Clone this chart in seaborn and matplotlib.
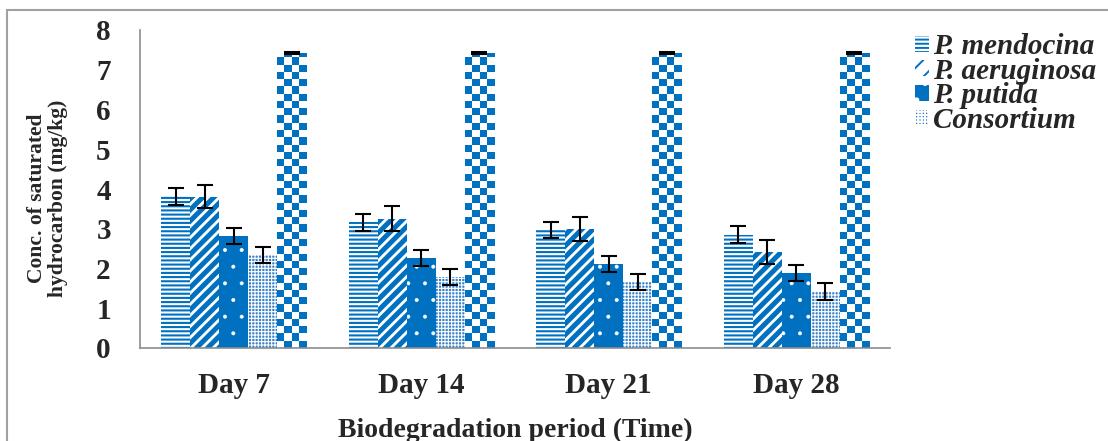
import numpy as np
import pandas as pd
import matplotlib
matplotlib.use("Agg")
import matplotlib.pyplot as plt
import matplotlib.patches as mpatches
from matplotlib.colors import ListedColormap
import seaborn as sns

# ---- data ----
days = ["Day 7", "Day 14", "Day 21", "Day 28"]
strains = ["P. mendocina", "P. aeruginosa", "P. putida", "Consortium", "Control"]

mendocina = [3.82, 3.16, 2.97, 2.85]
aeruginosa = [3.81, 3.25, 2.99, 2.41]
putida = [2.81, 2.26, 2.12, 1.89]
consortium = [2.35, 1.79, 1.67, 1.43]
control = [7.42, 7.42, 7.42, 7.42]

mendocina_err = [0.21, 0.22, 0.20, 0.22]
aeruginosa_err = [0.30, 0.31, 0.30, 0.30]
putida_err = [0.20, 0.20, 0.20, 0.21]
consortium_err = [0.20, 0.20, 0.20, 0.21]
control_err = [0.02, 0.02, 0.02, 0.02]

values = [mendocina, aeruginosa, putida, consortium, control]
errors = [mendocina_err, aeruginosa_err, putida_err, consortium_err, control_err]

df = pd.DataFrame(
    [(d, s, v) for s, vals in zip(strains, values) for d, v in zip(days, vals)],
    columns=["day", "strain", "value"],
)

# ---- style ----
sns.set_style("white")
plt.rcParams["font.family"] = ["Liberation Serif", "DejaVu Serif"]
plt.rcParams["font.weight"] = "bold"
plt.rcParams["hatch.linewidth"] = 1.4

BLUE = "#0070C0"
GREY = "#8C8C8C"

fig = plt.figure(figsize=(11.08, 4.41), dpi=100)
ax = fig.add_axes([140 / 1108, 93 / 441, 750 / 1108, 318 / 441])

sns.barplot(data=df, x="day", y="value", hue="strain", order=days,
            hue_order=strains, width=0.775, errorbar=None, legend=False,
            ax=ax, saturation=1)

ax.set_ylim(0, 8)
ax.set_xlim(-0.5, len(days) - 0.5)

# per-series fill styles
styles = [
    dict(face="white", hatch="----", hcolor=BLUE, hlw=1.5),
    dict(face="white", hatch="///", hcolor=BLUE, hlw=3.6),
    dict(face=BLUE, hatch=".", hcolor="white", hlw=0.4),
    dict(face="#3A82CA", hatch="+++++", hcolor="white", hlw=0.8),
    dict(face="white", hatch=None, hcolor=BLUE, hlw=1.0),
]

for cont, st in zip(ax.containers, styles):
    for bar in cont:
        bar.set_facecolor(st["face"])
        bar.set_edgecolor(st["hcolor"])
        bar.set_linewidth(0)
        if st["hatch"]:
            bar.set_hatch(st["hatch"])
            if hasattr(bar, "set_hatch_linewidth"):
                bar.set_hatch_linewidth(st["hlw"])

# checkerboard fill for the control bars, clipped to each bar
checker_cmap = ListedColormap(["white", BLUE])
px_per_x = ax.transData.transform((1, 0))[0] - ax.transData.transform((0, 0))[0]
px_per_y = ax.transData.transform((0, 1))[1] - ax.transData.transform((0, 0))[1]
for bar in ax.containers[4]:
    x0, w, h = bar.get_x(), bar.get_width(), bar.get_height()
    ncol = 4
    sq_px = w * px_per_x / ncol
    sq_y = sq_px / px_per_y
    nrow = int(np.ceil(h / sq_y))
    grid = (np.add.outer(np.arange(nrow), np.arange(ncol)) % 2).astype(float)
    im = ax.imshow(grid, cmap=checker_cmap, vmin=0, vmax=1, origin="lower",
                   extent=(x0, x0 + w, 0, nrow * sq_y), aspect="auto",
                   interpolation="nearest", zorder=bar.get_zorder() + 0.1)
    im.set_clip_path(bar)
ax.set_xlim(-0.5, len(days) - 0.5)
ax.set_ylim(0, 8)

# error bars from the drawn bars
for cont, errs in zip(ax.containers, errors):
    xs = [b.get_x() + b.get_width() / 2 for b in cont]
    hs = [b.get_height() for b in cont]
    ax.errorbar(xs, hs, yerr=errs, fmt="none", ecolor="black",
                elinewidth=1.5, capsize=6, capthick=1.5, zorder=5)

# axes styling
for s in ["top", "right"]:
    ax.spines[s].set_visible(False)
for s in ["left", "bottom"]:
    ax.spines[s].set_color(GREY)
    ax.spines[s].set_linewidth(1.2)

ax.set_yticks(range(0, 9))
ax.tick_params(axis="y", which="major", direction="out", length=6, width=1,
               color=GREY, labelsize=21, pad=15)
ax.tick_params(axis="x", which="major", length=0, labelsize=21, pad=17)
ax.set_xticks(np.arange(-0.5, len(days)), minor=True)
ax.tick_params(axis="x", which="minor", direction="out", length=7, width=1,
               color=GREY)
for lab in ax.get_xticklabels() + ax.get_yticklabels():
    lab.set_fontweight("bold")

ax.set_xlabel("Biodegradation period (Time)", fontsize=20, fontweight="bold",
              labelpad=14)
ax.set_ylabel("Conc. of saturated\nhydrocarbon (mg/kg)", fontsize=15.5,
              fontweight="bold", linespacing=1.05)
ax.yaxis.set_label_coords(-0.096, 0.47)

# legend (four organisms)
leg_handles = []
for i, st in enumerate(styles[:4]):
    hatch = st["hatch"]
    hlw = st["hlw"]
    if i == 1:
        hatch, hlw = "//", 3.0
    p = mpatches.Patch(facecolor=st["face"], edgecolor=st["hcolor"],
                       hatch=hatch, linewidth=0)
    if hasattr(p, "set_hatch_linewidth"):
        p.set_hatch_linewidth(hlw)
    leg_handles.append(p)
leg = fig.legend(leg_handles, strains[:4], loc="upper left",
                 bbox_to_anchor=(915 / 1108, 1 - 33 / 441),
                 frameon=False, prop=dict(family="Liberation Serif",
                                          weight="bold", style="italic",
                                          size=21),
                 handlelength=0.48, handleheight=0.48, handletextpad=0.14,
                 labelspacing=-0.08, borderaxespad=0, borderpad=0)

# outer frame
fig.patches.append(mpatches.Rectangle((7 / 1108, -0.05), 1.2, 1 - 10 / 441 + 0.05,
                                      transform=fig.transFigure, fill=False,
                                      edgecolor="#A0A0A0", linewidth=1.5,
                                      clip_on=False))

fig.savefig("out.png", dpi=100)
